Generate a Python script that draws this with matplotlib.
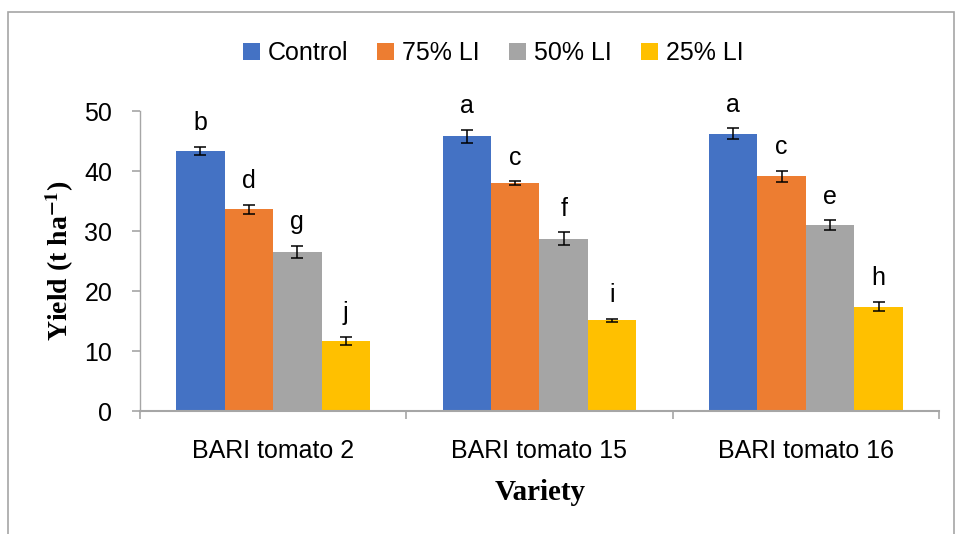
import matplotlib
matplotlib.use('Agg')
import matplotlib.pyplot as plt
from matplotlib.patches import Rectangle
import numpy as np

varieties = ['BARI tomato 2', 'BARI tomato 15', 'BARI tomato 16']
treatments = ['Control', '75% LI', '50% LI', '25% LI']
colors = ['#4472c4', '#ed7d31', '#a5a5a5', '#ffc000']

control = [43.3, 45.8, 46.2]
li75 = [33.6, 38.0, 39.1]
li50 = [26.5, 28.7, 31.0]
li25 = [11.7, 15.1, 17.4]

control_err = [0.7, 1.1, 0.9]
li75_err = [0.8, 0.3, 0.9]
li50_err = [1.0, 1.1, 0.8]
li25_err = [0.7, 0.3, 0.8]

control_sig = ['b', 'a', 'a']
li75_sig = ['d', 'c', 'c']
li50_sig = ['g', 'f', 'e']
li25_sig = ['j', 'i', 'h']

values = [control, li75, li50, li25]
errors = [control_err, li75_err, li50_err, li25_err]
letters = [control_sig, li75_sig, li50_sig, li25_sig]

plt.rcParams['font.family'] = ['Liberation Sans', 'DejaVu Sans']
plt.rcParams['mathtext.fontset'] = 'stix'

fig = plt.figure(figsize=(9.56, 5.34), dpi=100)
ax = fig.add_axes([0.1464, 0.2303, 0.8358, 0.5618])

# outer chart frame (bottom edge runs off the image)
fig.patches.append(Rectangle((8 / 956, -0.02), 946 / 956, 1.02 - 12 / 534,
                             transform=fig.transFigure, fill=False,
                             edgecolor='#a6a6a6', linewidth=1.2))

x = np.arange(len(varieties))
width = 0.182
for i, name in enumerate(treatments):
    pos = x + (i - 1.5) * width
    ax.bar(pos, values[i], width, color=colors[i], label=name,
           yerr=errors[i], capsize=4.3,
           error_kw={'elinewidth': 1.1, 'capthick': 1.1, 'ecolor': 'black'})
    for p, v, e, s in zip(pos, values[i], errors[i], letters[i]):
        ax.annotate(s, (p, v + e), xytext=(0, 12), textcoords='offset points',
                    ha='center', va='baseline', fontsize=18)

ax.set_xlim(-0.5, 2.5)
ax.set_ylim(0, 50)
ax.set_yticks([0, 10, 20, 30, 40, 50])
ax.set_xticks(x)
ax.set_xticklabels(varieties)
ax.set_xticks([-0.5, 0.5, 1.5, 2.5], minor=True)
ax.tick_params(axis='x', which='major', length=0, pad=20, labelsize=18)
ax.tick_params(axis='x', which='minor', length=6, color='#a6a6a6', width=1.2)
ax.tick_params(axis='y', length=6, color='#a6a6a6', width=1.2, pad=14,
               labelsize=18)

for side in ['top', 'right']:
    ax.spines[side].set_visible(False)
for side in ['bottom', 'left']:
    ax.spines[side].set_color('#a6a6a6')
ax.spines['bottom'].set_linewidth(1.5)
ax.spines['left'].set_linewidth(1.0)

fig.text(60 / 956, 1 - 261 / 534, r'Yield (t ha$^{\mathbf{-1}}$)',
         family='Liberation Serif', fontweight='bold', fontsize=20,
         rotation=90, ha='center', va='center')
fig.text(540 / 956, 1 - 492 / 534, 'Variety', family='Liberation Serif',
         fontweight='bold', fontsize=21, ha='center', va='center')

fig.legend(loc='center', bbox_to_anchor=(493 / 956, 1 - 53 / 534), ncol=4,
           frameon=False, fontsize=18, handlelength=0.68, handleheight=0.68,
           handletextpad=0.32, columnspacing=1.16)

fig.savefig('out.png', dpi=100)
